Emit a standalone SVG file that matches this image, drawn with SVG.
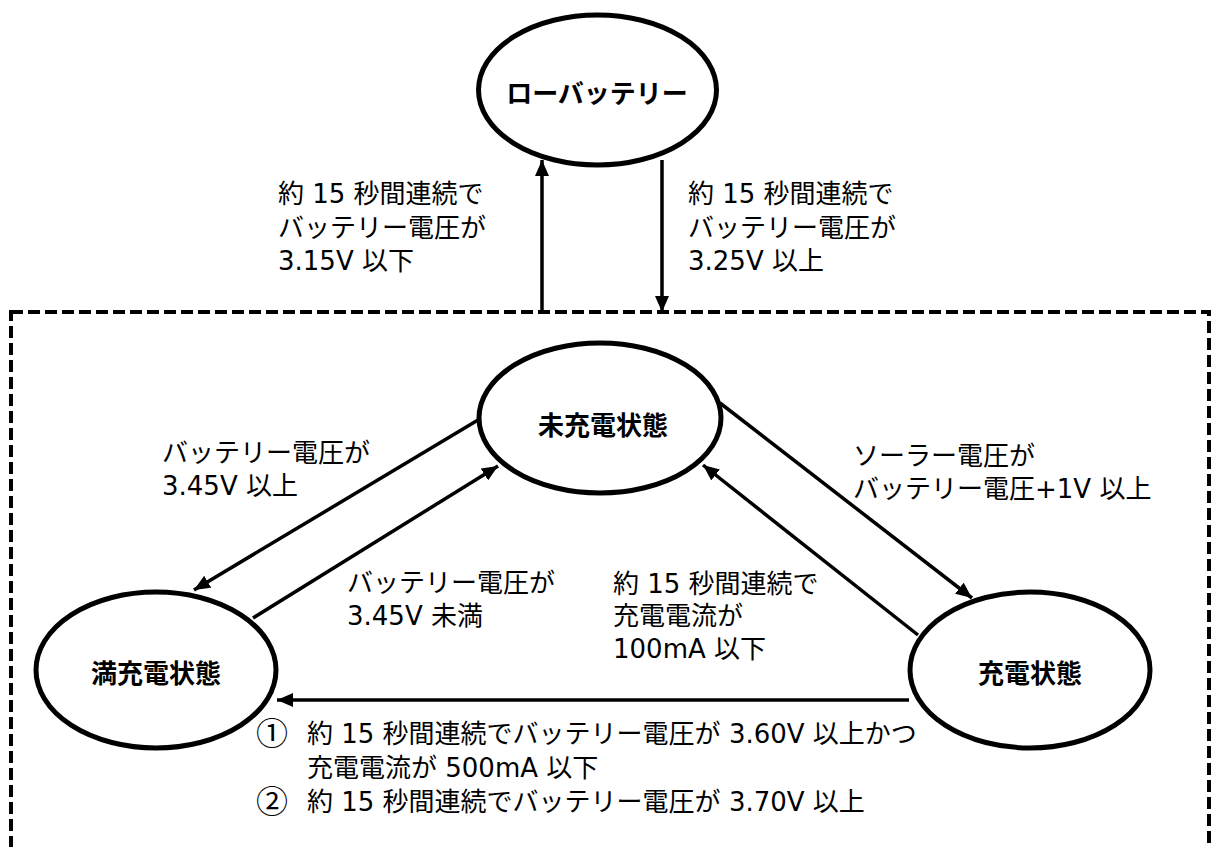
<svg xmlns="http://www.w3.org/2000/svg" width="1212" height="847" viewBox="0 0 1212 847">
  <style>
    .node { fill: #fff; stroke: #000; stroke-width: 5; }
    .ntext { font-family: "DejaVu Sans", "Noto Sans CJK JP", sans-serif; font-size: 26px; font-weight: bold; text-anchor: middle; fill: #000; }
    .lbl { font-family: "DejaVu Sans", "Noto Sans CJK JP", sans-serif; font-size: 26px; fill: #000; }
    .num { font-family: "Noto Sans CJK JP", sans-serif; font-size: 32px; fill: #000; }
    .conn { stroke: #000; stroke-width: 3.5; fill: none; marker-end: url(#arrow); }
    .frame { fill: none; stroke: #000; stroke-width: 4; stroke-dasharray: 12 5; }
  </style>
  <defs>
    <marker id="arrow" markerUnits="userSpaceOnUse" markerWidth="17" markerHeight="14" refX="16" refY="7" orient="auto">
      <path d="M0,0 L16,7 L0,14 Z" fill="#000"/>
    </marker>
  </defs>
  <rect x="0" y="0" width="1212" height="847" fill="#fff"/>
  <rect class="frame" x="11" y="312" width="1198" height="600"/>

  <g id="connectors">
    <path class="conn" d="M542,312 L542,160"/>
    <path class="conn" d="M662,160 L662,312"/>
    <path class="conn" d="M478,420 L194,590"/>
    <path class="conn" d="M253,618 L498,466"/>
    <path class="conn" d="M720,403 L972,598"/>
    <path class="conn" d="M918,635 L703,465"/>
    <path class="conn" d="M909,700 L277,700"/>
  </g>

  <g id="node-low-battery">
    <ellipse class="node" cx="597.5" cy="90" rx="119" ry="75"/>
    <text class="ntext" x="597" y="103">ローバッテリー</text>
  </g>
  <g id="node-uncharged">
    <ellipse class="node" cx="600" cy="418" rx="121" ry="75"/>
    <text class="ntext" x="603" y="435">未充電状態</text>
  </g>
  <g id="node-full">
    <ellipse class="node" cx="156" cy="670" rx="120" ry="78"/>
    <text class="ntext" x="156" y="683">満充電状態</text>
  </g>
  <g id="node-charging">
    <ellipse class="node" cx="1030" cy="670" rx="120" ry="78"/>
    <text class="ntext" x="1030" y="683">充電状態</text>
  </g>

  <g id="labels">
    <text class="lbl" x="278" y="203">約 15 秒間連続で</text>
    <text class="lbl" x="278" y="237">バッテリー電圧が</text>
    <text class="lbl" x="278" y="270">3.15V 以下</text>

    <text class="lbl" x="688" y="203">約 15 秒間連続で</text>
    <text class="lbl" x="688" y="237">バッテリー電圧が</text>
    <text class="lbl" x="688" y="270">3.25V 以上</text>

    <text class="lbl" x="162" y="462">バッテリー電圧が</text>
    <text class="lbl" x="162" y="495">3.45V 以上</text>

    <text class="lbl" x="347" y="592">バッテリー電圧が</text>
    <text class="lbl" x="347" y="625">3.45V 未満</text>

    <text class="lbl" x="613" y="593">約 15 秒間連続で</text>
    <text class="lbl" x="613" y="625">充電電流が</text>
    <text class="lbl" x="613" y="658">100mA 以下</text>

    <text class="lbl" x="853" y="465">ソーラー電圧が</text>
    <text class="lbl" x="853" y="498">バッテリー電圧+1V 以上</text>

    <text class="num" x="256" y="745">①</text>
    <text class="lbl" x="307" y="743">約 15 秒間連続でバッテリー電圧が 3.60V 以上かつ</text>
    <text class="lbl" x="307" y="777">充電電流が 500mA 以下</text>
    <text class="num" x="256" y="813">②</text>
    <text class="lbl" x="307" y="811">約 15 秒間連続でバッテリー電圧が 3.70V 以上</text>
  </g>
</svg>
